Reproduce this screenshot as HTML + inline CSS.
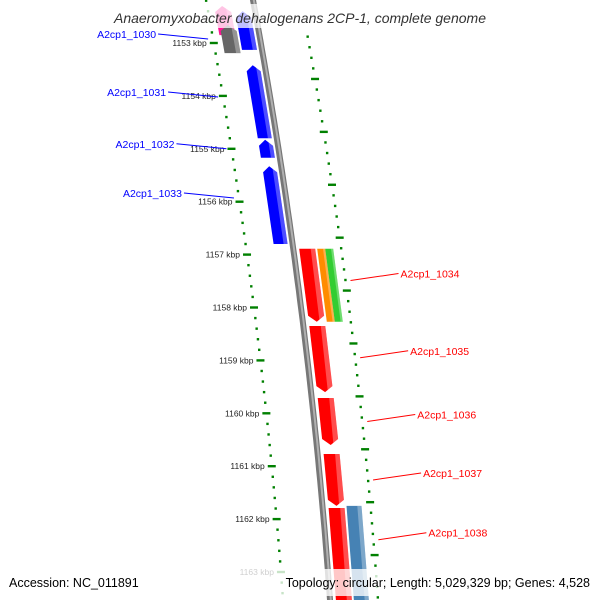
<!DOCTYPE html>
<html><head><meta charset="utf-8"><style>
html,body{margin:0;padding:0;background:#fff;}
svg{display:block;font-family:"Liberation Sans",sans-serif;}
</style></head><body>
<svg id="map" width="600" height="600" viewBox="0 0 600 600" xmlns="http://www.w3.org/2000/svg">
<g id="g-back"></g>
<g id="g-ticks"></g>
<g id="g-genes"></g>
<g id="g-labels"></g>
<rect x="88" y="4" width="424" height="24" fill="#fff" opacity="0.75"/>
<text x="300" y="23" text-anchor="middle" font-size="14" font-style="italic" fill="#333">Anaeromyxobacter dehalogenans 2CP-1, complete genome</text>
<rect x="226" y="569" width="374" height="27" fill="#fff" opacity="0.78"/>
<text x="9" y="587" font-size="12.5" fill="#000">Accession: NC_011891</text>
<text x="590" y="587" text-anchor="end" font-size="12.5" fill="#000">Topology: circular; Length: 5,029,329 bp; Genes: 4,528</text>
</svg>
<script>
// data
const tickKbp = [1153,1154,1155,1156,1157,1158,1159,1160,1161,1162,1163];
const geneNames = ["","","A2cp1_1030","A2cp1_1031","A2cp1_1032","A2cp1_1033","A2cp1_1034","","","A2cp1_1035","A2cp1_1036","A2cp1_1037","A2cp1_1038",""];
const geneStart = [1152.3,1152.4,1152.66,1153.42,1154.83,1155.33,1156.89,1156.89,1156.89,1158.35,1159.71,1160.77,1161.79,1161.75];
const geneEnd   = [1152.85,1153.13,1153.19,1154.80,1155.17,1156.80,1158.27,1158.27,1158.27,1159.60,1160.60,1161.75,1163.9,1163.9];
const geneStrand= [-1,-1,-1,-1,-1,-1,1,0,0,1,1,1,1,0];
const geneColor = ["#ff1493","#0000ff","#666666","#0000ff","#0000ff","#0000ff","#ff0000","#ff8c00","#32cd32","#ff0000","#ff0000","#ff0000","#ff0000","#4682b4"];
const geneOff1  = [-40,-20,-38,-19,-19,-19,6,24,32,6,6,6,6,24];
const geneOff2  = [-24,-5,-22,-5,-5,-5,22,32,40,22,22,22,22,39];

const NS="http://www.w3.org/2000/svg";
const yOf = k => 43 + (k-1153)*52.9;
const bx = y => 253 + 0.1853*y - 0.0000949*y*y;
const P = (k,off) => { const y=yOf(k); return [bx(y)+off, y]; };
function mk(tag, parent, attrs){ const e=document.createElementNS(NS,tag); for(const a in attrs) e.setAttribute(a,attrs[a]); parent.appendChild(e); return e; }

// backbone
const gb=document.getElementById('g-back');
let d=""; for(let y=-10;y<=610;y+=10){ d+=(y===-10?"M":"L")+bx(y).toFixed(1)+","+y; }
const bb1=mk('path',gb,{d:d,fill:"none",stroke:"#777","stroke-width":6});


const bb2=mk('path',gb,{d:d,fill:"none",stroke:"#b0b0b0","stroke-width":2,transform:"translate(0.8,0)"});



// ticks
const gt=document.getElementById('g-ticks');
for(let k=1152; k<=1164.01; k+=0.2){
  const kk=Math.round(k*10)/10;
  const major = Math.abs(kk-Math.round(kk))<0.01;
  const [x,y]=P(kk,-47);
  if(y<-5||y>605) continue;
  const t=mk('rect',gt,{x:(major?x-4:x-1.2),y:y-1.2,width:(major?8:2.4),height:2.4,fill:"#008000"});
  
  
  const [x2,y2]=P(kk+0.68,48);
  if(y2>-5&&y2<605){
    const t2=mk('rect',gt,{x:(major?x2-4:x2-1.2),y:y2-1.2,width:(major?8:2.4),height:2.4,fill:"#008000"});
    
    
  }
}
tickKbp.forEach(k=>{
  const [x,y]=P(k,-47);
  const tx=mk('text',gt,{x:x-7,y:y+3,"text-anchor":"end","font-size":"8.5",fill:"#222"});
  tx.textContent=k+" kbp";
  
  
});

// genes
const gg=document.getElementById('g-genes');
const gl=document.getElementById('g-labels');
const H=6/52.9;
geneStart.forEach((s,i)=>{
  const e=geneEnd[i], o1=geneOff1[i], o2=geneOff2[i], st=geneStrand[i], om=(o1+o2)/2;
  let pts;
  if(st===1) pts=[P(s,o1),P(s,o2),P(e-H,o2),P(e,om),P(e-H,o1)];
  else if(st===-1) pts=[P(s+H,o1),P(s,om),P(s+H,o2),P(e,o2),P(e,o1)];
  else pts=[P(s,o1),P(s,o2),P(e,o2),P(e,o1)];
  const poly=mk('polygon',gg,{points:pts.map(p=>p[0].toFixed(1)+","+p[1].toFixed(1)).join(" "),fill:geneColor[i]});
  
  
  const w=o2-o1, h1=o1+w*0.72;
  let hp;
  if(st===1) hp=[P(s,h1),P(s,o2),P(e-H,o2),P(e-H*0.3,h1+ (om-h1)*0.2)];
  else if(st===-1) hp=[P(s+H*0.3,h1),P(s+H,o2),P(e,o2),P(e,h1)];
  else hp=[P(s,h1),P(s,o2),P(e,o2),P(e,h1)];
  const hl=mk('polygon',gg,{points:hp.map(p=>p[0].toFixed(1)+","+p[1].toFixed(1)).join(" "),fill:"#fff",opacity:"0.3"});
  
  
  if(geneNames[i]){
    const mid=(s+e)/2;
    const left=st===-1;
    const y=yOf(Math.min(mid, s+0.6));
    const lk=(y-43)/52.9+1153;
    let ax,ay,lx;
    if(left){ [ax,ay]=P(lk,-52); lx=ax-50; }
    else { [ax,ay]=P(lk,53); lx=ax+48; }
    const ly=ay-(left?5:7);
    const ln=mk('line',gl,{x1:ax,y1:ay,x2:lx,y2:ly,stroke:left?"#0000ff":"#ff0000","stroke-width":1});
    
    
    const tx=mk('text',gl,{x:left?lx-2:lx+2,y:ly+4,"text-anchor":left?"end":"start","font-size":"10.5",fill:left?"#0000ff":"#ff0000"});
    tx.textContent=geneNames[i];
    
    
  }
});
</script>
</body></html>
